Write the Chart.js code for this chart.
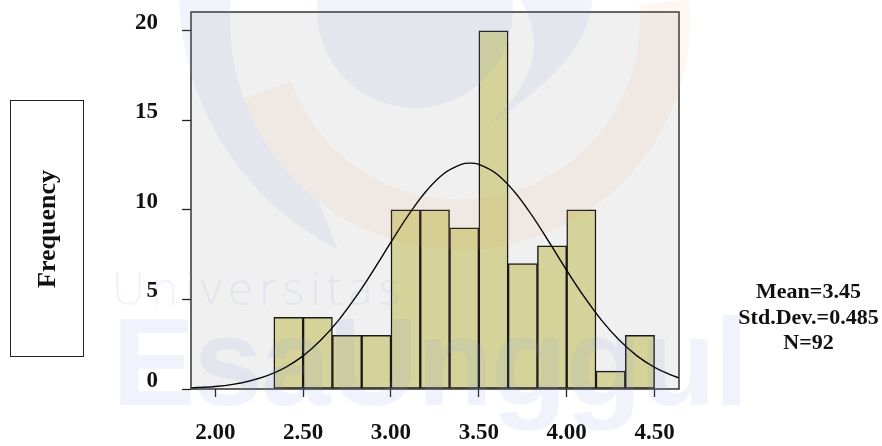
<!DOCTYPE html>
<html><head><meta charset="utf-8">
<script src="https://cdn.jsdelivr.net/npm/chart.js@4.4.1/dist/chart.umd.min.js"></script>
<style>
html,body{margin:0;padding:0;background:#fff;}
#wrap{position:relative;width:882px;height:446px;overflow:hidden;}
#c{position:absolute;left:0;top:0;}
.serif{font-family:"Liberation Serif","Times New Roman",serif;font-weight:bold;color:#111;}
#ybox{position:absolute;left:10px;top:100px;width:74px;height:257px;border:1.5px solid #222;box-sizing:border-box;}
#ylabel{position:absolute;left:50%;top:50%;transform:translate(-50%,-50%) rotate(-90deg);font-size:26px;white-space:nowrap;}
#stats{position:absolute;left:727px;width:163px;top:278px;text-align:center;font-size:22px;line-height:25.5px;white-space:nowrap;}
#wm{position:absolute;left:0;top:0;pointer-events:none;}
</style></head><body>
<div id="wrap">
<canvas id="c" width="882" height="446"></canvas>
<div id="ybox" class="serif"><span id="ylabel">Frequency</span></div>
<div id="stats" class="serif">Mean=3.45<br>Std.Dev.=0.485<br>N=92</div>
<svg id="wm" width="882" height="446" viewBox="0 0 882 446">
  <g fill="rgb(130,160,220)" fill-opacity="0.11">
    <circle cx="415" cy="10" r="98"/>
    <path d="M187.5 -79.2 A290 290 0 0 0 337.9 249.6 L318.4 201.2 A230 230 0 0 1 243.9 -58.7 Z"/>
    <path d="M520 0 Q560 60 488 125 Q590 60 592 0 Z"/>
  </g>
  <path d="M243.9 98.7 A230 230 0 0 0 689.1 0 L639.3 4.3 A180 180 0 0 1 290.9 81.6 Z" fill="rgb(240,150,100)" fill-opacity="0.09"/>
  <text x="112" y="305" font-family="Open Sans, Lato, sans-serif" font-weight="300" font-size="46" letter-spacing="6" fill="rgb(130,160,220)" fill-opacity="0.12">Universitas</text>
  <text x="112" y="405" font-family="Liberation Sans, Arial, sans-serif" font-weight="bold" font-size="125" letter-spacing="-2" fill="rgb(130,160,220)" fill-opacity="0.12">EsaUnggul</text>
</svg>
</div>
<script>
// Histogram bins (centres of bins of width 1/6) and counts
const binCenters = [2.41667, 2.58333, 2.75, 2.91667, 3.08333, 3.25, 3.41667, 3.58333, 3.75, 3.91667, 4.08333, 4.25, 4.41667];
const frequencies = [4, 4, 3, 3, 10, 10, 9, 20, 7, 8, 10, 1, 3];
// Normal curve points
const curveX = [1.862, 1.9, 2.0, 2.1, 2.2, 2.3, 2.4, 2.5, 2.6, 2.7, 2.8, 2.9, 3.0, 3.1, 3.2, 3.3, 3.4, 3.45, 3.5, 3.6, 3.7, 3.8, 3.9, 4.0, 4.1, 4.2, 4.3, 4.4, 4.5, 4.6, 4.639];
const curveY = [0.06, 0.08, 0.14, 0.26, 0.46, 0.76, 1.21, 1.85, 2.72, 3.82, 5.14, 6.63, 8.20, 9.72, 11.04, 12.02, 12.54, 12.61, 12.54, 12.02, 11.04, 9.72, 8.20, 6.63, 5.14, 3.82, 2.72, 1.85, 1.21, 0.76, 0.62];
const xTicks = [2.0, 2.5, 3.0, 3.5, 4.0, 4.5];
const yTicks = [0, 5, 10, 15, 20];

const tickFont = {family: 'Liberation Serif', size: 23, weight: 'bold'};

const frame = {
  id: 'frame',
  beforeDraw(chart) {
    const {ctx, chartArea: {left, top, right, bottom}} = chart;
    ctx.save();
    ctx.fillStyle = '#ffffff';
    ctx.fillRect(0, 0, chart.width, chart.height);
    ctx.fillStyle = '#f0f0f0';
    ctx.fillRect(left, top, right - left, bottom - top);
    ctx.restore();
  },
  afterDatasetsDraw(chart) {
    const {ctx, chartArea: {left, top, right, bottom}} = chart;
    ctx.save();
    ctx.strokeStyle = '#333';
    ctx.lineWidth = 1.5;
    ctx.strokeRect(left, top, right - left, bottom - top);
    ctx.restore();
  }
};

new Chart(document.getElementById('c'), {
  type: 'bar',
  data: {
    datasets: [
      {
        type: 'line',
        data: curveX.map((x, i) => ({x: x, y: curveY[i]})),
        borderColor: '#000', borderWidth: 1.4, pointRadius: 0, tension: 0.4, fill: false, order: 1
      },
      {
        type: 'bar',
        data: binCenters.map((x, i) => ({x: x, y: frequencies[i]})),
        backgroundColor: 'rgb(213,211,153)', borderColor: '#1a1a1a', borderWidth: 1.5,
        borderSkipped: false, barPercentage: 1, categoryPercentage: 1, order: 2
      }
    ]
  },
  options: {
    responsive: false, animation: false, devicePixelRatio: 1,
    layout: {padding: {left: 0, right: 203, top: 12, bottom: 0}},
    plugins: {legend: {display: false}, tooltip: {enabled: false}},
    scales: {
      x: {
        type: 'linear', min: 1.862, max: 4.639, offset: false,
        afterBuildTicks: s => { s.ticks = xTicks.map(v => ({value: v})); },
        afterFit: s => { s.height = 57; s.paddingLeft = 0; s.paddingRight = 0; },
        grid: {offset: false, drawOnChartArea: false, drawTicks: true, tickLength: 8, tickColor: '#222', tickWidth: 1.3},
        border: {display: false},
        ticks: {font: tickFont, color: '#111', padding: 22, maxRotation: 0, autoSkip: false,
                callback: v => Number(v).toFixed(2)}
      },
      y: {
        min: 0, max: 21.05,
        afterBuildTicks: s => { s.ticks = yTicks.map(v => ({value: v})); },
        afterFit: s => { s.width = 191; s.paddingTop = 0; s.paddingBottom = 0; },
        grid: {drawOnChartArea: false, drawTicks: true, tickLength: 9, tickColor: '#222', tickWidth: 1.3},
        border: {display: false},
        ticks: {font: tickFont, color: '#111', padding: 24, labelOffset: -8}
      }
    }
  },
  plugins: [frame]
});
</script>
</body></html>
